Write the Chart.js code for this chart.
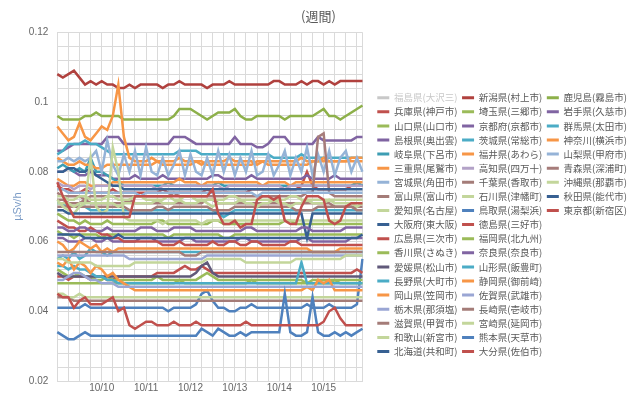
<!DOCTYPE html>
<html lang="ja">
<head>
<meta charset="utf-8">
<title>空間線量率(週間)</title>
<script src="https://cdn.jsdelivr.net/npm/chart.js@4/dist/chart.umd.min.js"></script>
<style>
  html, body { margin: 0; padding: 0; background: #fff; }
  #wrap { width: 640px; height: 395px; }
</style>
</head>
<body>
<div id="wrap"><canvas id="graficoSemana"></canvas></div>
<script>
// ----------- 空間線量率 (週間) -----------
// 値は 0.001 µSv/h 単位、3時間ごと (10/09 0時 〜 10/15 21時)

const days = ['10/09', '10/10', '10/11', '10/12', '10/13', '10/14', '10/15'];
const hours = [0, 3, 6, 9, 12, 15, 18, 21];

const prefectures = [
  '福島県(大沢三)', '新潟県(村上市)', '鹿児島(霧島市)', '兵庫県(神戸市)', '埼玉県(三郷市)', '岩手県(久慈市)',
  '山口県(山口市)', '京都府(京都市)', '群馬県(太田市)', '島根県(奥出雲)', '茨城県(常総市)', '神奈川(横浜市)',
  '岐阜県(下呂市)', '福井県(あわら)', '山梨県(甲府市)', '三重県(尾鷲市)', '高知県(四万十)', '青森県(深浦町)',
  '宮城県(角田市)', '千葉県(香取市)', '沖縄県(那覇市)', '富山県(富山市)', '石川県(津幡町)', '秋田県(能代市)',
  '愛知県(名古屋)', '鳥取県(湯梨浜)', '東京都(新宿区)', '大阪府(東大阪)', '徳島県(三好市)', '広島県(三次市)',
  '福岡県(北九州)', '香川県(さぬき)', '奈良県(奈良市)', '愛媛県(松山市)', '山形県(飯豊町)', '長野県(大町市)',
  '静岡県(御前崎)', '岡山県(笠岡市)', '佐賀県(武雄市)', '栃木県(那須塩)', '長崎県(壱岐市)', '滋賀県(甲賀市)',
  '宮崎県(延岡市)', '和歌山(新宮市)', '熊本県(天草市)', '北海道(共和町)', '大分県(佐伯市)'
];

const colors = [
  '#c8c8c8', '#b0413e', '#8db04a', '#c0504d', '#9bbb59', '#8064a2',
  '#9bbb59', '#8064a2', '#4bacc6', '#7f63a1', '#4bacc6', '#f79646',
  '#3d9db3', '#f79646', '#95b3d7', '#f79646', '#b3a2c7', '#a67c7a',
  '#95b3d7', '#a47c78', '#c3d69b', '#a47c78', '#c3d69b', '#376092',
  '#c3d69b', '#4f81bd', '#c0504d', '#376092', '#c0504d', '#c0504d',
  '#9bbb59', '#9bbb59', '#8064a2', '#60597a', '#4bacc6', '#4bacc6',
  '#f79646', '#f79646', '#9aa6d4', '#9aa6d4', '#a47c78', '#a47c78',
  '#c3d69b', '#c3d69b', '#4f81bd', '#376092', '#c0504d'
];

const fukushima = [];
const niigata   = [108,107,108,109,107,105,106,105, 106,105,105,104,104,105,104,105, 105,105,105,104,105,105,106,105, 105,105,105,104,105,105,105,106, 105,105,105,105,105,105,105,106, 106,105,105,105,106,105,106,106, 105,106,105,106,106,106,106,106];
const kagoshima = [96,95,95,95,95,96,96,97, 96,96,96,96,95,95,95,95, 95,95,95,95,95,96,98,98, 98,97,96,95,96,97,97,97, 98,96,95,95,96,96,96,96, 96,95,96,96,96,96,96,97, 98,96,96,95,96,97,98,99];
const hyogo     = [76,75,75,74,74,75,74,74, 74,74,75,74,74,74,74,74, 74,74,74,75,74,74,74,74, 74,74,74,75,74,74,74,74, 74,74,74,75,75,75,75,75, 75,75,75,75,76,80,76,75, 75,75,75,75,75,76,76,76];
const saitama   = [63,62,62,61,62,62,62,62, 61,62,62,62,62,62,62,62, 62,62,62,62,61,62,62,62, 62,62,62,62,62,62,61,61, 62,62,62,62,62,62,62,62, 62,62,62,62,62,62,62,62, 62,62,62,62,62,62,62,62];
const iwate     = [86,86,87,88,88,88,88,88, 88,90,90,90,88,88,88,88, 88,88,88,88,88,90,90,90, 89,88,88,88,88,88,88,88, 90,88,88,88,87,87,88,90, 90,90,88,88,88,88,88,90, 89,89,89,89,89,89,90,90];
const yamaguchi = [68,67,66,66,65,66,65,65, 65,66,65,65,65,65,65,65, 65,65,66,66,65,65,65,65, 65,65,65,65,66,66,65,65, 65,65,65,65,65,65,65,65, 65,66,66,65,65,65,65,65, 65,65,65,65,65,65,65,65];
const kyoto     = [61,61,60,60,60,61,61,60, 60,61,60,60,60,60,60,61, 61,61,60,60,60,60,60,61, 61,60,60,60,60,60,60,60, 60,61,61,60,60,60,60,60, 60,60,60,60,61,61,60,60, 60,60,60,60,60,61,61,61];
const gunma     = [85,86,88,88,88,89,88,88, 87,86,85,85,85,85,85,85, 85,85,85,85,85,85,86,86, 86,86,85,85,85,85,85,85, 85,85,85,85,85,85,85,84, 84,84,84,84,85,84,84,84, 84,84,84,84,84,84,84,84];
const shimane   = [80,80,81,80,79,79,80,79, 79,79,78,78,78,78,79,78, 78,78,78,79,78,78,78,78, 78,78,78,78,79,79,78,78, 78,78,78,79,78,78,78,78, 78,78,78,78,78,79,78,78, 78,78,79,78,78,78,78,78];
const ibaraki   = [71,71,70,70,70,70,69,69, 69,69,69,69,69,69,69,69, 69,69,69,69,69,69,69,69, 69,69,69,69,69,68,67,68, 69,69,69,69,69,69,69,69, 69,69,69,69,69,69,69,69, 69,69,69,69,69,69,69,69];
const kanagawa  = [93,91,89,90,94,90,89,91, 93,92,96,105,90,84,83,83, 83,84,83,83,83,83,84,83, 83,83,82,83,83,83,83,84, 83,83,83,83,82,83,83,83, 83,83,83,83,84,83,83,83, 84,83,83,83,83,84,84,84];
const gifu      = [81,82,81,80,81,80,84,80, 80,79,78,77,76,76,76,76, 76,76,76,76,77,76,76,76, 76,76,76,76,76,77,76,76, 76,76,76,76,76,76,76,76, 76,76,76,76,76,76,76,76, 76,76,76,76,76,76,77,76];
const fukui     = [84,83,82,82,83,82,82,81, 81,82,82,82,82,82,82,82, 82,82,83,82,82,82,82,82, 82,83,83,82,82,82,82,82, 82,82,82,82,83,83,82,82, 82,82,82,82,82,82,83,83, 83,83,83,83,83,83,83,83];
const yamanashi = [83,83,84,83,84,83,84,86, 80,89,82,79,85,80,86,79, 87,80,79,84,79,82,86,79, 85,80,79,84,79,86,80,85, 79,84,80,86,79,80,85,79, 82,86,79,84,80,87,79,85, 80,86,79,84,86,80,84,80];
const mie       = [78,77,76,76,77,77,76,76, 76,76,77,77,77,77,77,77, 77,77,77,77,77,77,78,77, 77,77,76,77,77,77,77,77, 77,77,77,77,77,76,77,77, 77,77,76,77,77,77,77,77, 77,77,77,77,77,77,77,77];
const kochi     = [77,76,76,75,76,76,75,76, 76,76,76,76,76,76,76,76, 76,76,75,76,76,76,76,76, 76,76,76,76,76,76,75,76, 76,76,76,76,76,76,76,76, 76,75,76,76,76,76,76,76, 76,76,76,76,76,76,76,76];
const aomori    = [74,73,73,73,73,72,73,73, 73,73,73,73,73,73,73,73, 73,73,73,73,73,74,73,73, 73,73,73,73,73,73,73,73, 73,73,73,73,73,73,73,73, 73,73,73,73,73,74,74,90, 91,74,73,73,73,73,73,73];
const miyagi    = [75,75,74,74,74,74,74,74, 74,74,74,74,74,74,74,73, 74,74,74,74,74,74,74,74, 74,74,74,74,74,74,74,74, 74,74,74,74,73,74,74,74, 74,74,74,74,74,74,74,74, 74,74,74,74,74,74,74,74];
const chiba     = [72,72,71,71,71,72,71,71, 71,71,71,71,71,72,71,71, 71,71,71,71,71,71,71,71, 71,71,71,72,72,71,71,71, 71,71,71,71,71,71,71,71, 71,71,71,71,71,71,71,71, 71,71,70,70,70,70,70,70];
const okinawa   = [73,73,72,72,73,73,72,72, 72,73,73,72,72,72,73,73, 72,72,72,72,73,72,72,73, 73,72,72,72,72,72,72,73, 73,72,72,72,72,72,72,72, 72,72,73,73,72,72,72,72, 72,72,72,72,72,72,72,72];
const toyama    = [70,70,70,70,70,70,70,70, 70,70,70,70,70,69,69,69, 69,69,70,70,69,70,70,70, 70,70,70,70,69,69,69,69, 70,70,70,70,70,70,70,70, 70,70,70,69,69,69,69,70, 70,70,70,70,70,70,69,69];
const ishikawa  = [71,71,71,70,71,71,71,71, 71,71,71,70,71,71,71,71, 71,71,72,71,71,71,72,71, 71,71,72,71,70,71,71,71, 71,72,71,71,70,71,71,72, 71,71,70,71,71,72,71,71, 71,72,71,71,71,71,70,71];
const akita     = [80,80,81,81,80,80,81,79, 78,77,76,76,75,75,75,75, 75,75,75,75,75,75,75,75, 75,75,75,75,75,75,75,75, 75,75,75,75,75,75,75,75, 75,75,75,75,75,75,75,75, 75,75,75,75,75,75,75,75];
const aichi     = [72,70,69,68,70,71,84,70, 68,69,87,80,67,66,66,66, 66,66,66,65,66,66,66,66, 66,66,65,66,66,66,66,66, 66,66,66,66,66,66,66,66, 66,66,66,66,66,66,66,66, 66,66,66,66,66,66,66,66];
const tottori   = [41,41,41,41,41,42,41,41, 41,41,41,41,41,41,41,41, 41,41,41,41,40,41,41,41, 41,42,45,46,43,41,41,40, 40,41,41,42,41,41,41,41, 41,41,41,41,41,42,41,41, 41,42,41,41,41,41,42,55];
const tokyo     = [50,50,49,50,50,50,49,50, 50,49,49,50,50,50,50,50, 50,50,51,51,51,51,52,53, 52,52,53,52,51,51,51,51, 51,51,51,51,51,51,51,51, 51,51,51,51,51,51,51,51, 51,51,51,51,51,51,52,51];
const osaka     = [69,69,68,68,68,68,68,68, 68,68,68,68,68,68,68,68, 68,68,68,68,68,68,68,68, 68,68,68,68,68,68,68,68, 68,68,68,68,68,68,68,68, 68,68,68,68,68,61,68,68, 68,68,68,68,68,68,68,68];
const tokushima = [66,65,64,64,63,63,64,63, 62,62,61,61,60,60,60,60, 60,60,60,59,59,59,60,59, 59,59,59,59,60,59,59,60, 60,59,59,60,60,59,59,59, 59,59,60,60,59,59,59,59, 59,59,59,59,59,59,59,59];
const hiroshima = [77,73,70,67,67,67,67,67, 67,67,67,67,67,67,73,73, 73,73,73,73,73,73,73,73, 73,73,73,73,75,68,65,65, 66,64,65,65,72,73,73,72, 73,66,65,65,70,73,73,73, 72,66,65,66,70,71,71,71];
const fukuoka   = [48,48,48,48,48,48,48,48, 48,48,48,48,48,48,48,48, 48,48,48,48,48,48,49,48, 48,48,48,48,48,48,48,48, 48,48,48,49,48,48,48,48, 48,48,48,48,48,48,48,48, 48,48,49,48,48,48,48,48];
const kagawa    = [52,51,50,50,51,50,50,49, 49,50,49,49,49,49,49,49, 49,49,50,49,49,49,49,49, 49,49,50,51,50,49,49,49, 49,49,49,49,49,49,49,49, 49,49,49,49,49,48,49,49, 49,49,49,49,49,49,49,49];
const nara      = [64,64,63,63,64,64,63,63, 63,64,63,63,63,63,63,64, 64,64,63,63,63,64,64,64, 64,63,63,63,63,63,63,63, 63,63,64,64,63,63,63,63, 63,63,63,63,64,64,63,63, 63,63,63,63,64,64,64,64];
const ehime     = [51,50,50,50,50,50,50,50, 50,50,50,50,50,50,50,50, 50,50,50,50,50,50,50,50, 50,51,53,54,51,50,50,50, 50,50,50,50,50,50,50,50, 50,50,50,50,50,50,50,50, 50,50,50,50,50,50,50,50];
const yamagata  = [55,56,55,57,55,56,58,57, 57,56,57,57,57,57,57,57, 57,57,57,57,57,57,57,57, 57,57,57,57,57,57,57,57, 57,57,57,57,57,57,57,57, 57,57,57,57,57,57,57,57, 57,57,57,57,57,57,57,57];
const nagano    = [53,53,52,53,52,52,51,50, 50,49,49,48,48,48,48,48, 48,48,48,48,48,48,48,48, 48,48,48,48,48,48,48,48, 48,48,48,48,48,48,48,48, 48,48,48,48,54,48,48,48, 48,48,48,48,48,48,48,48];
const shizuoka  = [54,53,55,52,54,53,51,53, 52,50,51,49,48,47,46,46, 46,46,46,46,46,46,46,46, 46,46,46,46,46,46,46,46, 46,46,46,46,46,46,46,46, 46,46,46,46,46,47,46,49, 48,49,46,46,46,46,46,46];
const okayama   = [60,59,57,58,60,59,58,59, 57,58,57,58,58,58,58,58, 58,58,58,58,58,58,58,58, 58,58,58,58,58,58,58,58, 58,58,58,58,58,58,58,58, 58,58,58,58,58,58,57,57, 57,57,57,58,58,58,58,58];
const saga      = [56,56,56,56,56,56,56,56, 56,56,56,56,56,55,55,55, 55,55,55,55,55,55,55,55, 55,55,55,56,56,56,56,56, 56,56,56,56,56,56,56,56, 56,56,56,56,56,56,56,56, 56,56,56,56,56,56,56,56];
const tochigi   = [49,49,50,51,51,50,49,49, 48,48,48,47,47,47,47,47, 47,47,47,47,47,47,47,47, 47,47,47,47,47,47,47,47, 47,47,47,47,47,47,47,47, 47,47,47,47,47,47,47,47, 47,47,47,47,47,47,47,47];
const nagasaki  = [44,44,44,43,43,43,43,43, 43,43,43,43,43,43,43,43, 43,43,43,43,43,43,43,43, 43,43,43,43,43,43,43,43, 43,43,43,43,43,43,43,43, 43,43,43,43,43,43,43,43, 43,43,43,43,43,43,43,43];
const shiga     = [57,57,57,57,57,57,57,57, 57,57,57,57,57,57,57,57, 57,57,57,57,57,57,57,56, 56,56,57,57,57,57,57,57, 57,57,57,57,57,57,57,57, 57,57,57,57,57,57,57,57, 57,57,57,57,57,57,57,57];
const miyazaki  = [45,45,44,44,45,44,44,44, 44,44,44,44,44,44,44,44, 44,44,44,44,44,44,44,44, 44,44,44,44,44,44,44,44, 44,44,44,44,44,44,44,44, 44,44,44,44,44,44,44,44, 44,44,44,44,44,44,44,44];
const wakayama  = [55,55,54,54,54,54,54,53, 53,53,53,53,53,53,54,54, 54,54,54,54,54,54,54,54, 54,54,54,55,55,55,55,55, 55,55,54,54,54,54,54,54, 54,54,54,55,55,55,55,55, 55,55,55,55,56,56,56,56];
const kumamoto  = [34,33,32,32,33,34,33,33, 33,33,33,33,33,33,33,33, 33,33,33,33,33,33,33,33, 33,33,35,34,33,35,34,33, 33,34,33,34,34,34,34,34, 34,45,34,33,33,34,44,34, 33,33,34,33,34,33,34,35];
const hokkaido  = [62,62,62,62,62,61,61,61, 61,61,61,62,61,61,61,61, 61,61,61,61,61,61,61,61, 61,61,61,61,61,61,61,61, 61,61,61,61,61,61,61,61, 61,61,61,61,61,61,61,61, 61,61,61,61,61,61,61,62];
const oita      = [45,44,44,41,43,44,42,42, 42,43,44,40,41,36,35,36, 37,37,36,36,36,37,36,36, 36,37,36,36,36,36,36,36, 36,36,37,36,36,36,36,36, 36,36,36,36,36,36,36,36, 37,40,41,38,36,36,36,36];

const series = [
  fukushima, niigata, kagoshima, hyogo, saitama, iwate, yamaguchi, kyoto, gunma, shimane,
  ibaraki, kanagawa, gifu, fukui, yamanashi, mie, kochi, aomori, miyagi, chiba,
  okinawa, toyama, ishikawa, akita, aichi, tottori, tokyo, osaka, tokushima, hiroshima,
  fukuoka, kagawa, nara, ehime, yamagata, nagano, shizuoka, okayama, saga, tochigi,
  nagasaki, shiga, miyazaki, wakayama, kumamoto, hokkaido, oita
];

const times = [];
days.forEach(d => hours.forEach(h => times.push(d + ' ' + h + '時')));

const tickFont = { family: 'Liberation Sans', size: 10, lineHeight: 1 };
const gridColor = '#dadada';

// 凡例: 上の9行は3列、残りは2列 (元の図と同じ並び)
function legendItems(chart) {
  const items = chart.data.datasets.map((ds, i) => ({
    text: ds.label,
    strokeStyle: ds.borderColor,
    fillStyle: ds.borderColor,
    lineWidth: 3,
    pointStyle: 'line',
    hidden: false,
    datasetIndex: i,
    fontColor: i === 0 ? '#c8c8c8' : '#595959'
  }));
  const blank = () => ({ text: '', strokeStyle: 'rgba(0,0,0,0)', fillStyle: 'rgba(0,0,0,0)', lineWidth: 0, pointStyle: 'line', hidden: false, fontColor: '#595959' });
  const cols = [[], [], []];
  items.forEach((it, i) => {
    if (i < 27) cols[i % 3].push(it);
    else cols[(i - 27) % 2].push(it);
  });
  return [...cols[0], blank(), blank(), ...cols[1], blank(), blank(), ...cols[2]];
}

new Chart(document.getElementById('graficoSemana'), {
  type: 'line',
  data: {
    labels: times,
    datasets: series.map((vals, i) => ({
      label: prefectures[i],
      data: vals,
      borderColor: colors[i],
      backgroundColor: colors[i],
      borderWidth: 2.5,
      pointRadius: 0,
      tension: 0,
      order: series.length - i
    }))
  },
  options: {
    responsive: true,
    maintainAspectRatio: false,
    animation: false,
    layout: { padding: { right: 3 } },
    plugins: {
      title: {
        display: true,
        text: '(週間)',
        color: '#595959',
        font: { family: 'Noto Sans CJK JP', size: 13, weight: 'normal', lineHeight: 1.2 },
        padding: { top: 8, bottom: 8.7 }
      },
      legend: {
        position: 'right',
        align: 'start',
        maxWidth: 320,
        title: { display: true, text: '', font: { size: 10, lineHeight: 1 }, padding: { top: 78.35, bottom: 0 } },
        labels: {
          usePointStyle: true,
          pointStyleWidth: 12,
          padding: 4.6,
          color: '#595959',
          font: { family: 'Noto Sans CJK JP', size: 9.5 },
          generateLabels: legendItems
        }
      },
      tooltip: { enabled: false }
    },
    scales: {
      x: {
        type: 'category',
        offset: false,
        grid: {
          color: c => (c.index % 2 === 0 || c.index === times.length - 1) ? gridColor : 'rgba(0,0,0,0)',
          drawTicks: false
        },
        border: { color: gridColor },
        ticks: {
          autoSkip: false,
          maxRotation: 0,
          padding: 2,
          color: '#666',
          font: tickFont,
          callback: (v, i) => (i > 0 && i % hours.length === 0) ? days[i / hours.length] : ''
        },
        afterFit: s => { s.height = 11; }
      },
      y: {
        min: 20,
        max: 120,
        grid: { color: gridColor, drawTicks: false },
        border: { color: gridColor },
        ticks: {
          stepSize: 2,
          padding: 9,
          color: '#666',
          font: tickFont,
          callback: v => v % 10 === 0 ? String(v / 1000) : ''
        },
        title: {
          display: true,
          text: 'µSv/h',
          color: '#7c9cc6',
          font: { family: 'Liberation Sans', size: 11 },
          padding: { top: 11.4, bottom: 0 }
        },
        afterFit: s => { s.width = 57.3; }
      },
      y2: {
        position: 'right',
        display: true,
        grid: { display: false },
        border: { display: false },
        ticks: { display: false },
        afterFit: s => { s.width = 10.2; }
      }
    }
  }
});
</script>
</body>
</html>
